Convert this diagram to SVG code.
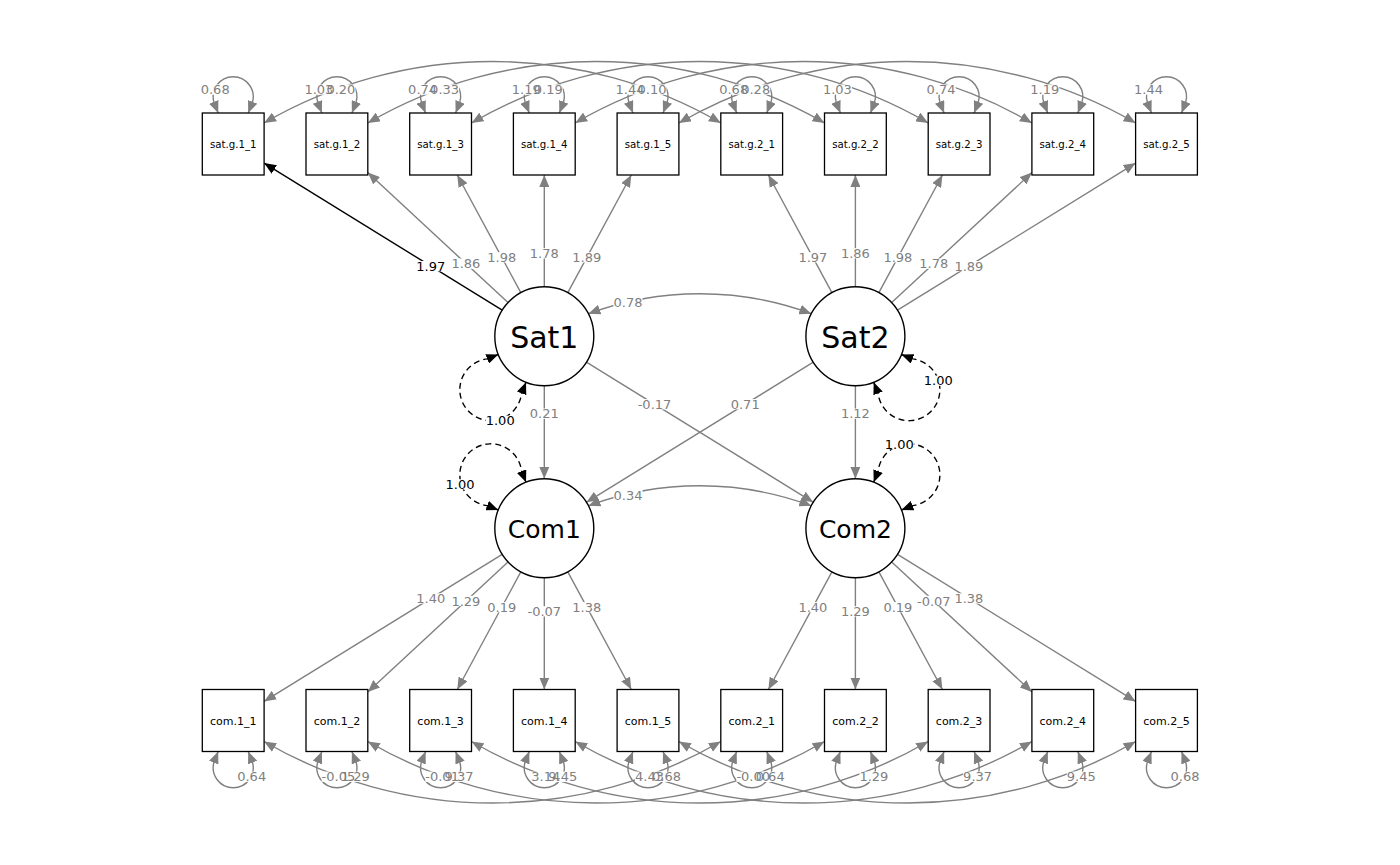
<svg xmlns="http://www.w3.org/2000/svg" width="1400" height="865" viewBox="0 0 1400 865">
<style>
.e{fill:none;stroke:#808080;stroke-width:1.4}
.ek{fill:none;stroke:#000;stroke-width:1.4}
.d{fill:none;stroke:#000;stroke-width:1.4;stroke-dasharray:6 4}
.box{fill:#fff;stroke:#000;stroke-width:1.3}
.lat{fill:#fff;stroke:#000;stroke-width:1.4}
.t{font-family:"DejaVu Sans",sans-serif;text-anchor:middle;fill:#000}
.mt{font-size:10.2px}
.mc{font-size:11px}
.ls{font-size:30px}
.lc{font-size:25px}
.l{font-family:"DejaVu Sans",sans-serif;font-size:13px;fill:#808080;text-anchor:middle}
.lk{fill:#000}
.bg{fill:#fff}
</style>
<defs>
<marker id="ag" viewBox="0 0 12 10" refX="12" refY="5" markerWidth="12" markerHeight="10" markerUnits="userSpaceOnUse" orient="auto-start-reverse"><path d="M0,0 L12,5 L0,10 z" fill="#808080"/></marker>
<marker id="ak" viewBox="0 0 12 10" refX="12" refY="5" markerWidth="12" markerHeight="10" markerUnits="userSpaceOnUse" orient="auto-start-reverse"><path d="M0,0 L12,5 L0,10 z" fill="#000"/></marker>
</defs>
<rect width="1400" height="865" fill="#fff"/>
<g id="connectors">
<!-- top residual covariances -->
<g class="e" marker-start="url(#ag)" marker-end="url(#ag)">
<path d="M264.1,123 A454.7 454.7 0 0 1 720.8,123"/>
<path d="M367.8,123 A454.7 454.7 0 0 1 824.5,123"/>
<path d="M471.5,123 A454.7 454.7 0 0 1 928.2,123"/>
<path d="M575.2,123 A454.7 454.7 0 0 1 1031.9,123"/>
<path d="M678.9,123 A454.7 454.7 0 0 1 1135.6,123"/>
<path d="M264.1,741.5 A454.7 454.7 0 0 0 720.8,741.5"/>
<path d="M367.8,741.5 A454.7 454.7 0 0 0 824.5,741.5"/>
<path d="M471.5,741.5 A454.7 454.7 0 0 0 928.2,741.5"/>
<path d="M575.2,741.5 A454.7 454.7 0 0 0 1031.9,741.5"/>
<path d="M678.9,741.5 A454.7 454.7 0 0 0 1135.6,741.5"/>
<!-- residual loops top -->
<path d="M218.2,113 L214.2,103 A20 20 0 1 1 252.2,103 L248.2,113"/>
<path d="M321.9,113 L317.9,103 A20 20 0 1 1 355.9,103 L351.9,113"/>
<path d="M425.6,113 L421.6,103 A20 20 0 1 1 459.6,103 L455.6,113"/>
<path d="M529.3,113 L525.3,103 A20 20 0 1 1 563.3,103 L559.3,113"/>
<path d="M633,113 L629,103 A20 20 0 1 1 667,103 L663,113"/>
<path d="M736.7,113 L732.7,103 A20 20 0 1 1 770.7,103 L766.7,113"/>
<path d="M840.4,113 L836.4,103 A20 20 0 1 1 874.4,103 L870.4,113"/>
<path d="M944.1,113 L940.1,103 A20 20 0 1 1 978.1,103 L974.1,113"/>
<path d="M1047.8,113 L1043.8,103 A20 20 0 1 1 1081.8,103 L1077.8,113"/>
<path d="M1151.5,113 L1147.5,103 A20 20 0 1 1 1185.5,103 L1181.5,113"/>
<!-- residual loops bottom -->
<path d="M218.2,751.5 L214.2,761.5 A20 20 0 1 0 252.2,761.5 L248.2,751.5"/>
<path d="M321.9,751.5 L317.9,761.5 A20 20 0 1 0 355.9,761.5 L351.9,751.5"/>
<path d="M425.6,751.5 L421.6,761.5 A20 20 0 1 0 459.6,761.5 L455.6,751.5"/>
<path d="M529.3,751.5 L525.3,761.5 A20 20 0 1 0 563.3,761.5 L559.3,751.5"/>
<path d="M633,751.5 L629,761.5 A20 20 0 1 0 667,761.5 L663,751.5"/>
<path d="M736.7,751.5 L732.7,761.5 A20 20 0 1 0 770.7,761.5 L766.7,751.5"/>
<path d="M840.4,751.5 L836.4,761.5 A20 20 0 1 0 874.4,761.5 L870.4,751.5"/>
<path d="M944.1,751.5 L940.1,761.5 A20 20 0 1 0 978.1,761.5 L974.1,751.5"/>
<path d="M1047.8,751.5 L1043.8,761.5 A20 20 0 1 0 1081.8,761.5 L1077.8,751.5"/>
<path d="M1151.5,751.5 L1147.5,761.5 A20 20 0 1 0 1185.5,761.5 L1181.5,751.5"/>
<!-- latent covariances -->
<path d="M588.4,313.7 A320.5 320.5 0 0 1 811.3,313.7"/>
<path d="M588.4,505.8 A320.5 320.5 0 0 1 811.3,505.8"/>
</g>
<!-- loadings -->
<path class="ek" d="M502.2,310.2 L264.1,163.1" marker-end="url(#ak)"/>
<g class="e" marker-end="url(#ag)">
<path d="M508,302.6 L367.8,172.6"/>
<path d="M520.8,292.6 L457.3,175"/>
<path d="M544.3,286.7 L544.3,175"/>
<path d="M567.8,292.6 L631.3,175"/>
<path d="M831.9,292.6 L768.4,175"/>
<path d="M855.4,286.7 L855.4,175"/>
<path d="M878.9,292.6 L942.4,175"/>
<path d="M891.7,302.6 L1031.9,172.6"/>
<path d="M897.5,310.2 L1135.6,163.1"/>
<path d="M502.2,554.3 L264.1,701.4"/>
<path d="M508,561.9 L367.8,691.9"/>
<path d="M520.8,571.9 L457.3,689.5"/>
<path d="M544.3,577.8 L544.3,689.5"/>
<path d="M567.8,571.9 L631.3,689.5"/>
<path d="M831.9,571.9 L768.4,689.5"/>
<path d="M855.4,577.8 L855.4,689.5"/>
<path d="M878.9,571.9 L942.4,689.5"/>
<path d="M891.7,561.9 L1031.9,691.9"/>
<path d="M897.5,554.3 L1135.6,701.4"/>
<!-- structural -->
<path d="M544.3,385.7 L544.3,478.8"/>
<path d="M855.4,385.7 L855.4,478.8"/>
<path d="M586.4,362.2 L813.3,502.3"/>
<path d="M813.3,362.2 L586.4,502.3"/>
</g>
<!-- latent variances -->
<g class="d" marker-start="url(#ak)" marker-end="url(#ak)">
<path d="M498.3,354.5 L487.1,358.9 A31 31 0 1 0 521.6,393.4 L526,382.2"/>
<path d="M901.4,354.5 L912.6,358.9 A31 31 0 1 1 878.1,393.4 L873.7,382.2"/>
<path d="M498.3,510 L487.1,505.6 A31 31 0 1 1 521.6,471.1 L526,482.3"/>
<path d="M901.4,510 L912.6,505.6 A31 31 0 1 0 878.1,471.1 L873.7,482.3"/>
</g>
</g>
<g id="node-sat.g.1_1"><rect class="box" x="202.3" y="113" width="61.8" height="62"/><text class="t mt" x="233.2" y="147.7">sat.g.1_1</text></g>
<g id="node-sat.g.1_2"><rect class="box" x="306" y="113" width="61.8" height="62"/><text class="t mt" x="336.9" y="147.7">sat.g.1_2</text></g>
<g id="node-sat.g.1_3"><rect class="box" x="409.7" y="113" width="61.8" height="62"/><text class="t mt" x="440.6" y="147.7">sat.g.1_3</text></g>
<g id="node-sat.g.1_4"><rect class="box" x="513.4" y="113" width="61.8" height="62"/><text class="t mt" x="544.3" y="147.7">sat.g.1_4</text></g>
<g id="node-sat.g.1_5"><rect class="box" x="617.1" y="113" width="61.8" height="62"/><text class="t mt" x="648" y="147.7">sat.g.1_5</text></g>
<g id="node-sat.g.2_1"><rect class="box" x="720.8" y="113" width="61.8" height="62"/><text class="t mt" x="751.7" y="147.7">sat.g.2_1</text></g>
<g id="node-sat.g.2_2"><rect class="box" x="824.5" y="113" width="61.8" height="62"/><text class="t mt" x="855.4" y="147.7">sat.g.2_2</text></g>
<g id="node-sat.g.2_3"><rect class="box" x="928.2" y="113" width="61.8" height="62"/><text class="t mt" x="959.1" y="147.7">sat.g.2_3</text></g>
<g id="node-sat.g.2_4"><rect class="box" x="1031.9" y="113" width="61.8" height="62"/><text class="t mt" x="1062.8" y="147.7">sat.g.2_4</text></g>
<g id="node-sat.g.2_5"><rect class="box" x="1135.6" y="113" width="61.8" height="62"/><text class="t mt" x="1166.5" y="147.7">sat.g.2_5</text></g>
<g id="node-com.1_1"><rect class="box" x="202.3" y="689.5" width="61.8" height="62"/><text class="t mc" x="233.2" y="724.5">com.1_1</text></g>
<g id="node-com.1_2"><rect class="box" x="306" y="689.5" width="61.8" height="62"/><text class="t mc" x="336.9" y="724.5">com.1_2</text></g>
<g id="node-com.1_3"><rect class="box" x="409.7" y="689.5" width="61.8" height="62"/><text class="t mc" x="440.6" y="724.5">com.1_3</text></g>
<g id="node-com.1_4"><rect class="box" x="513.4" y="689.5" width="61.8" height="62"/><text class="t mc" x="544.3" y="724.5">com.1_4</text></g>
<g id="node-com.1_5"><rect class="box" x="617.1" y="689.5" width="61.8" height="62"/><text class="t mc" x="648" y="724.5">com.1_5</text></g>
<g id="node-com.2_1"><rect class="box" x="720.8" y="689.5" width="61.8" height="62"/><text class="t mc" x="751.7" y="724.5">com.2_1</text></g>
<g id="node-com.2_2"><rect class="box" x="824.5" y="689.5" width="61.8" height="62"/><text class="t mc" x="855.4" y="724.5">com.2_2</text></g>
<g id="node-com.2_3"><rect class="box" x="928.2" y="689.5" width="61.8" height="62"/><text class="t mc" x="959.1" y="724.5">com.2_3</text></g>
<g id="node-com.2_4"><rect class="box" x="1031.9" y="689.5" width="61.8" height="62"/><text class="t mc" x="1062.8" y="724.5">com.2_4</text></g>
<g id="node-com.2_5"><rect class="box" x="1135.6" y="689.5" width="61.8" height="62"/><text class="t mc" x="1166.5" y="724.5">com.2_5</text></g>
<g id="node-Sat1"><circle class="lat" cx="544.3" cy="336.2" r="49.5"/><text class="t ls" x="544.3" y="347.5">Sat1</text></g>
<g id="node-Sat2"><circle class="lat" cx="855.4" cy="336.2" r="49.5"/><text class="t ls" x="855.4" y="347.5">Sat2</text></g>
<g id="node-Com1"><circle class="lat" cx="544.3" cy="528.3" r="49.5"/><text class="t lc" x="544.3" y="538">Com1</text></g>
<g id="node-Com2"><circle class="lat" cx="855.4" cy="528.3" r="49.5"/><text class="t lc" x="855.4" y="538">Com2</text></g>
<g id="edge-labels">
<g class="bg">
<rect x="200.7" y="84.4" width="29" height="10.3"/><rect x="304.4" y="84.4" width="29" height="10.3"/><rect x="408.1" y="84.4" width="29" height="10.3"/><rect x="511.8" y="84.4" width="29" height="10.3"/><rect x="615.5" y="84.4" width="29" height="10.3"/><rect x="719.2" y="84.4" width="29" height="10.3"/><rect x="822.9" y="84.4" width="29" height="10.3"/><rect x="926.6" y="84.4" width="29" height="10.3"/><rect x="1030.3" y="84.4" width="29" height="10.3"/><rect x="1134" y="84.4" width="29" height="10.3"/>
<rect x="326.4" y="84.4" width="29" height="10.3"/><rect x="430.1" y="84.4" width="29" height="10.3"/><rect x="533.8" y="84.4" width="29" height="10.3"/><rect x="637.5" y="84.4" width="29" height="10.3"/><rect x="741.2" y="84.4" width="29" height="10.3"/>
<rect x="237.2" y="771.6" width="29" height="10.3"/><rect x="340.9" y="771.6" width="29" height="10.3"/><rect x="444.6" y="771.6" width="29" height="10.3"/><rect x="548.3" y="771.6" width="29" height="10.3"/><rect x="652" y="771.6" width="29" height="10.3"/><rect x="755.7" y="771.6" width="29" height="10.3"/><rect x="859.4" y="771.6" width="29" height="10.3"/><rect x="963.1" y="771.6" width="29" height="10.3"/><rect x="1066.8" y="771.6" width="29" height="10.3"/><rect x="1170.5" y="771.6" width="29" height="10.3"/>
<rect x="321.6" y="771.6" width="33.5" height="10.3"/><rect x="425.3" y="771.6" width="33.5" height="10.3"/><rect x="531.3" y="771.6" width="29" height="10.3"/><rect x="635" y="771.6" width="29" height="10.3"/><rect x="736.4" y="771.6" width="33.5" height="10.3"/>
<rect x="416.3" y="261" width="29" height="10.3"/><rect x="451.4" y="258.5" width="29" height="10.3"/><rect x="487.3" y="252.2" width="29" height="10.3"/><rect x="529.8" y="248.1" width="29" height="10.3"/><rect x="572.3" y="252.2" width="29" height="10.3"/>
<rect x="798.4" y="252.2" width="29" height="10.3"/><rect x="840.9" y="248.1" width="29" height="10.3"/><rect x="883.4" y="252.2" width="29" height="10.3"/><rect x="919.3" y="258.5" width="29" height="10.3"/><rect x="954.4" y="261" width="29" height="10.3"/>
<rect x="416.3" y="593.3" width="29" height="10.3"/><rect x="451.4" y="595.8" width="29" height="10.3"/><rect x="487.3" y="602.1" width="29" height="10.3"/><rect x="527.5" y="606.2" width="33.5" height="10.3"/><rect x="572.3" y="602.1" width="29" height="10.3"/>
<rect x="798.4" y="602.1" width="29" height="10.3"/><rect x="840.9" y="606.2" width="29" height="10.3"/><rect x="883.4" y="602.1" width="29" height="10.3"/><rect x="917" y="595.8" width="33.5" height="10.3"/><rect x="954.4" y="593.3" width="29" height="10.3"/>
<rect x="529.8" y="408.5" width="29" height="10.3"/><rect x="840.9" y="408.5" width="29" height="10.3"/><rect x="637.7" y="399.1" width="33.5" height="10.3"/><rect x="730.7" y="399.1" width="29" height="10.3"/>
<rect x="613.5" y="296.9" width="29" height="10.3"/><rect x="613.5" y="489.9" width="29" height="10.3"/>
<rect x="485.7" y="415.6" width="29" height="10.3"/><rect x="923.8" y="375.6" width="29" height="10.3"/><rect x="445.5" y="479.2" width="29" height="10.3"/><rect x="884.8" y="438.9" width="29" height="10.3"/>
</g>
<g class="l">
<text x="215.2" y="94.2">0.68</text><text x="318.9" y="94.2">1.03</text><text x="422.6" y="94.2">0.74</text><text x="526.3" y="94.2">1.19</text><text x="630" y="94.2">1.44</text><text x="733.7" y="94.2">0.68</text><text x="837.4" y="94.2">1.03</text><text x="941.1" y="94.2">0.74</text><text x="1044.8" y="94.2">1.19</text><text x="1148.5" y="94.2">1.44</text>
<text x="340.9" y="94.2">0.20</text><text x="444.6" y="94.2">0.33</text><text x="548.3" y="94.2">0.19</text><text x="652" y="94.2">0.10</text><text x="755.7" y="94.2">0.28</text>
<text x="251.7" y="781.4">0.64</text><text x="355.4" y="781.4">1.29</text><text x="459.1" y="781.4">9.37</text><text x="562.8" y="781.4">9.45</text><text x="666.5" y="781.4">0.68</text><text x="770.2" y="781.4">0.64</text><text x="873.9" y="781.4">1.29</text><text x="977.6" y="781.4">9.37</text><text x="1081.3" y="781.4">9.45</text><text x="1185" y="781.4">0.68</text>
<text x="338.4" y="781.4">-0.05</text><text x="442.1" y="781.4">-0.01</text><text x="545.8" y="781.4">3.14</text><text x="649.5" y="781.4">4.43</text><text x="753.2" y="781.4">-0.00</text>
<text class="lk" x="430.8" y="270.8">1.97</text><text x="465.9" y="268.3">1.86</text><text x="501.8" y="262">1.98</text><text x="544.3" y="257.9">1.78</text><text x="586.8" y="262">1.89</text>
<text x="812.9" y="262">1.97</text><text x="855.4" y="257.9">1.86</text><text x="897.9" y="262">1.98</text><text x="933.8" y="268.3">1.78</text><text x="968.9" y="270.8">1.89</text>
<text x="430.8" y="603.1">1.40</text><text x="465.9" y="605.6">1.29</text><text x="501.8" y="611.9">0.19</text><text x="544.3" y="616">-0.07</text><text x="586.8" y="611.9">1.38</text>
<text x="812.9" y="611.9">1.40</text><text x="855.4" y="616">1.29</text><text x="897.9" y="611.9">0.19</text><text x="933.8" y="605.6">-0.07</text><text x="968.9" y="603.1">1.38</text>
<text x="544.3" y="418.3">0.21</text><text x="855.4" y="418.3">1.12</text><text x="654.5" y="408.9">-0.17</text><text x="745.2" y="408.9">0.71</text>
<text x="628" y="306.7">0.78</text><text x="628" y="499.7">0.34</text>
<text class="lk" x="500.2" y="425.4">1.00</text><text class="lk" x="938.3" y="385.4">1.00</text><text class="lk" x="460" y="489">1.00</text><text class="lk" x="899.3" y="448.7">1.00</text>
</g>
</g>
</svg>
